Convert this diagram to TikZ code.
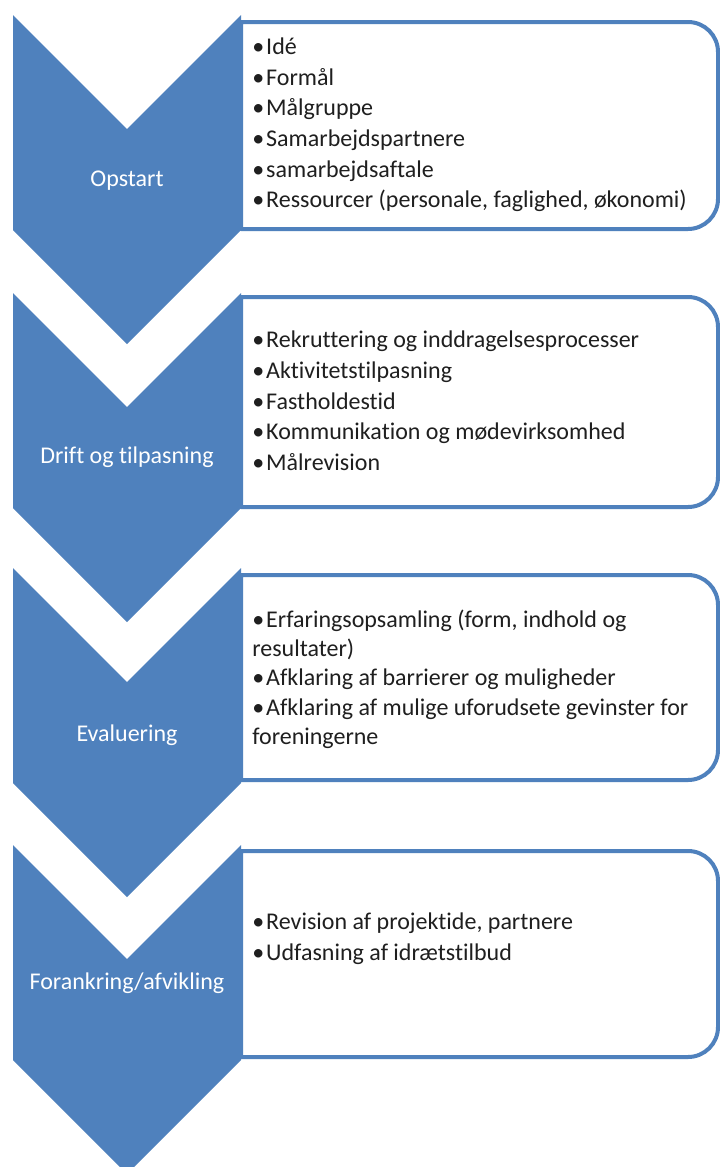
\documentclass[tikz,border=0pt]{standalone}
\usepackage{fontspec}
\setmainfont{Carlito}[Ligatures=NoCommon]
\definecolor{accent}{HTML}{4F81BD}
\definecolor{ink}{HTML}{1F1F1F}
\newcommand\bul{•\kern1.5pt}
\begin{document}
\begin{tikzpicture}[x=0.75pt,y=-0.75pt,
  chev/.style={fill=accent, draw=none},
  listbox/.style={draw=accent, line width=3pt, fill=white, line join=round},
  chevlabel/.style={text=white, inner sep=0pt, font=\fontsize{18}{21}\selectfont},
  items/.style={align=left, anchor=west, inner sep=0pt, text=ink, font=\fontsize{18}{23}\selectfont}]
\useasboundingbox[fill=white] (0,0) rectangle (720,1167);
% list boxes
\foreach \t/\b in {22/229, 297/507, 575/780, 851/1057}{
  \draw[listbox] (241,\t) -- (688,\t) arc[start angle=90,end angle=0,radius=22.5pt]
    -- (718,\b-30) arc[start angle=0,end angle=-90,radius=22.5pt] -- (241,\b) -- cycle;
}
% chevrons
\foreach \t in {15, 293, 568, 845}{
  \fill[chev] (13,\t) -- (127,\t+114) -- (241,\t) -- (241,\t+215) -- (127,\t+329) -- (13,\t+215) -- cycle;
}
% chevron labels
\node[chevlabel] (l1) at (127,181) {Opstart};
\node[chevlabel] (l2) at (127,457) {Drift og tilpasning};
\node[chevlabel] (l3) at (127,735) {Evaluering};
\node[chevlabel] (l4) at (127,983) {Forankring/afvikling};
% lists
\node[items] (t1) at (252,125) {\bul Idé\\\bul Formål\\\bul Målgruppe\\\bul Samarbejdspartnere\\\bul samarbejdsaftale\\\bul Ressourcer (personale, faglighed, økonomi)};
\node[items] (t2) at (252,401) {\bul Rekruttering og inddragelsesprocesser\\\bul Aktivitetstilpasning\\\bul Fastholdestid\\\bul Kommunikation og mødevirksomhed\\\bul Målrevision};
\node[items, font=\fontsize{18}{22}\selectfont] (t3) at (252,679) {\bul Erfaringsopsamling (form, indhold og\\resultater)\\\bul Afklaring af barrierer og muligheder\\\bul Afklaring af mulige uforudsete gevinster for\\foreningerne};
\node[items] (t4) at (252,939) {\bul Revision af projektide, partnere\\\bul Udfasning af idrætstilbud};
\end{tikzpicture}
\end{document}
